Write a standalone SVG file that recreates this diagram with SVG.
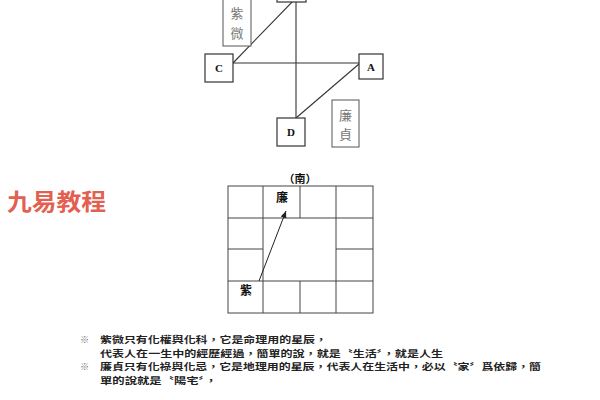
<svg xmlns="http://www.w3.org/2000/svg" width="600" height="400" viewBox="0 0 600 400">
<style>
.box{fill:#fff;stroke:#333;stroke-width:1.2}
.gbox{fill:#fff;stroke:#555;stroke-width:1}
.ln{stroke:#333;stroke-width:1.1;fill:none}
.lab{font-family:"Liberation Serif",serif;font-weight:bold;font-size:11px;fill:#111;text-anchor:middle}
.cjkg{font-family:"Noto Sans CJK TC","Noto Sans CJK SC",sans-serif;font-size:13px;fill:#777;text-anchor:middle}
.cjk{font-family:"Noto Sans CJK TC","Noto Sans CJK SC",sans-serif;font-weight:bold;fill:#111}
.note{font-family:"Noto Sans CJK TC","Noto Sans CJK SC",sans-serif;font-weight:bold;font-size:9.2px;fill:#222}
.mark{font-weight:normal;fill:#777}
</style>
<defs>
<marker id="ah" markerWidth="8" markerHeight="8" refX="7" refY="4" orient="auto" markerUnits="userSpaceOnUse">
<path d="M0,1 L7,4 L0,7 Z" fill="#222"/>
</marker>
</defs>
<rect width="600" height="400" fill="#fff"/>
<g id="connectors">
<line class="ln" x1="296" y1="2" x2="296" y2="118"/>
<line class="ln" x1="233" y1="63" x2="359" y2="63"/>
<line class="ln" x1="233" y1="63" x2="294" y2="0"/>
<line class="ln" x1="359" y1="64" x2="296" y2="118"/>
</g>
<g id="nodeB"><rect class="box" x="277" y="-26" width="29" height="28"/></g>
<g id="zwbox"><rect class="gbox" x="223" y="-6" width="28" height="52"/>
<text class="cjkg" x="237" y="18">紫</text><text class="cjkg" x="237" y="38">微</text></g>
<g id="nodeC"><rect class="box" x="205" y="54" width="28" height="28"/><text class="lab" x="219" y="72">C</text></g>
<g id="nodeA"><rect class="box" x="359" y="54" width="24" height="25"/><text class="lab" x="371" y="71">A</text></g>
<g id="nodeD"><rect class="box" x="277" y="118" width="28" height="28"/><text class="lab" x="291" y="136">D</text></g>
<g id="ljbox"><rect class="gbox" x="332" y="100" width="27" height="47"/>
<text class="cjkg" x="345.5" y="120">廉</text><text class="cjkg" x="345.5" y="139">貞</text></g>
<text x="7" y="210" font-family="'Noto Sans CJK SC','Noto Sans CJK TC',sans-serif" font-weight="bold" font-size="23" fill="#e35f52" textLength="99" lengthAdjust="spacingAndGlyphs">九易教程</text>
<g id="grid">
<text class="cjk" x="300" y="183" font-size="11" text-anchor="middle">（南）</text>
<rect x="228" y="186" width="145" height="127" fill="none" stroke="#444" stroke-width="1"/>
<g stroke="#444" stroke-width="1">
<line x1="263" y1="186" x2="263" y2="313"/>
<line x1="336" y1="186" x2="336" y2="313"/>
<line x1="300" y1="186" x2="300" y2="218"/>
<line x1="300" y1="281" x2="300" y2="313"/>
<line x1="228" y1="218" x2="373" y2="218"/>
<line x1="228" y1="281" x2="373" y2="281"/>
<line x1="228" y1="249" x2="263" y2="249"/>
<line x1="336" y1="249" x2="373" y2="249"/>
</g>
<text class="cjk" x="282" y="202" font-size="12" text-anchor="middle">廉</text>
<text class="cjk" x="246" y="295" font-size="12" text-anchor="middle">紫</text>
<line x1="259" y1="281" x2="286" y2="211" stroke="#222" stroke-width="1" marker-end="url(#ah)"/>
</g>
<g id="notes">
<text class="note"><tspan class="mark" x="80" y="343">※</tspan><tspan x="100" y="343" textLength="227" lengthAdjust="spacingAndGlyphs">紫微只有化權與化科，它是命理用的星辰，</tspan><tspan x="100" y="356.5" textLength="343" lengthAdjust="spacingAndGlyphs">代表人在一生中的經歷經過，簡單的說，就是〝生活〞，就是人生</tspan><tspan class="mark" x="80" y="370">※</tspan><tspan x="100" y="370" textLength="441" lengthAdjust="spacingAndGlyphs">廉貞只有化祿與化忌，它是地理用的星辰，代表人在生活中，必以〝家〞爲依歸，簡</tspan><tspan x="100" y="383.5" textLength="117" lengthAdjust="spacingAndGlyphs">單的說就是〝陽宅〞，</tspan></text>
</g>
</svg>
